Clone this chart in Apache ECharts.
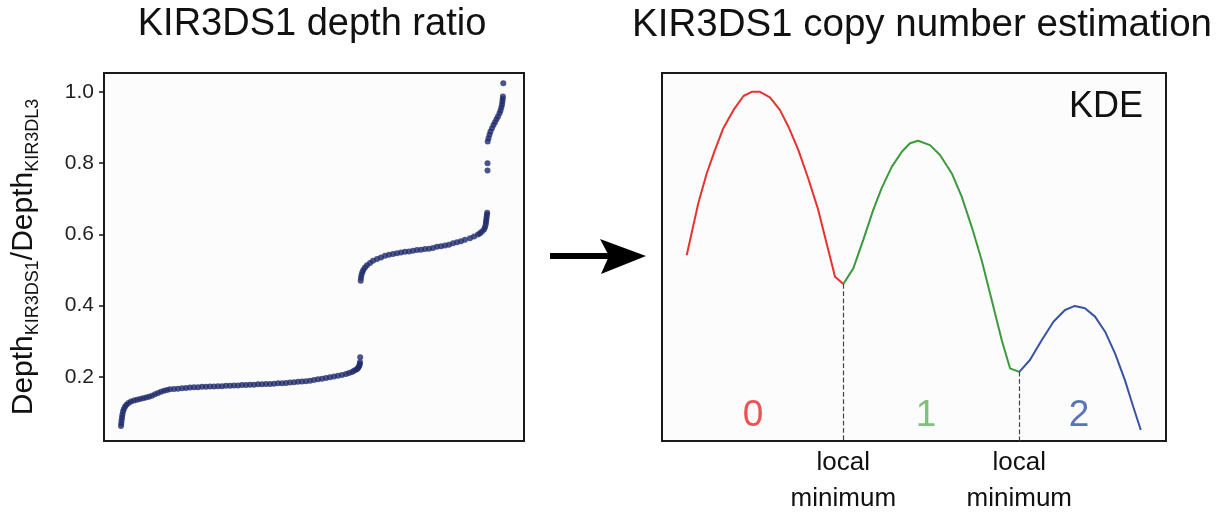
<!DOCTYPE html>
<html>
<head>
<meta charset="utf-8">
<script src="https://cdn.jsdelivr.net/npm/echarts@6/dist/echarts.min.js"></script>
<style>
  html, body { margin: 0; padding: 0; background: #fff; }
  #chart { width: 1221px; height: 512px; }
</style>
</head>
<body>
<div id="chart"></div>
<script>
// 左图：按排序位置的深度比值 [位置, 比值]
const lowerGroup = [
  [17.0, 0.062], [17.3, 0.070], [17.6, 0.078], [18.0, 0.086], [18.4, 0.094], [19.0, 0.102],
  [19.8, 0.109], [21.0, 0.116], [22.5, 0.122], [24.5, 0.127], [27, 0.131], [30, 0.134],
  [33, 0.136], [36, 0.138], [39, 0.140], [42, 0.142], [45, 0.144], [48, 0.147], [51, 0.151],
  [54, 0.155], [57, 0.158], [60, 0.161], [63, 0.163], [66, 0.165], [70, 0.166], [74, 0.167],
  [78, 0.168], [82, 0.169], [86, 0.170], [90, 0.171], [94, 0.171], [98, 0.172], [102, 0.172],
  [106, 0.173], [110, 0.173], [114, 0.174], [118, 0.174], [122, 0.175], [126, 0.175],
  [130, 0.176], [134, 0.176], [138, 0.177], [142, 0.177], [146, 0.178], [150, 0.178],
  [154, 0.179], [158, 0.179], [162, 0.180], [166, 0.180], [170, 0.181], [174, 0.182],
  [178, 0.182], [182, 0.183], [186, 0.184], [190, 0.185], [194, 0.186], [198, 0.187],
  [202, 0.188], [206, 0.189], [210, 0.191], [214, 0.193], [218, 0.195], [222, 0.197],
  [226, 0.199], [230, 0.201], [234, 0.203], [238, 0.205], [242, 0.208], [245, 0.211],
  [248, 0.214], [250, 0.217], [252, 0.220], [253.5, 0.223], [254.5, 0.227], [255.3, 0.231],
  [255.8, 0.236], [256.0, 0.241], [256.2, 0.255]
];
const middleGroup = [
  [256.7, 0.470], [257.0, 0.478], [257.5, 0.486], [258.3, 0.494], [259.3, 0.500], [261, 0.507],
  [263, 0.513], [266, 0.520], [269, 0.526], [273, 0.531], [277, 0.535], [281, 0.540],
  [285, 0.543], [289, 0.545], [293, 0.547], [297, 0.549], [301, 0.551], [305, 0.552],
  [309, 0.554], [313, 0.556], [317, 0.557], [321, 0.559], [325, 0.560], [329, 0.562],
  [333, 0.565], [337, 0.567], [341, 0.569], [345, 0.571], [349, 0.575], [353, 0.578],
  [357, 0.581], [361, 0.585], [366, 0.589], [370, 0.594], [374, 0.600], [376, 0.603],
  [378, 0.608], [380, 0.614], [381, 0.620], [381.7, 0.628], [382, 0.635], [382.3, 0.641],
  [382.6, 0.648], [382.9, 0.655], [383.2, 0.661]
];
const upperGroup = [
  [383.5, 0.779], [383.5, 0.800], [383.7, 0.861], [384.5, 0.870], [385.5, 0.880],
  [386.5, 0.889], [388, 0.898], [389.5, 0.907], [391, 0.915], [392.5, 0.923], [394, 0.931],
  [395.5, 0.940], [396.5, 0.948], [397.3, 0.956], [398, 0.964], [398.4, 0.972],
  [398.7, 0.980], [398.9, 0.987], [399.3, 1.024]
];
const ratioTicks = [0.2, 0.4, 0.6, 0.8, 1.0];

// 右图：KDE 曲线，按拷贝数分段 [比值, 密度]
const kdeCopy0 = [
  [0.0588, 0.505], [0.0864, 0.646], [0.1064, 0.727], [0.1262, 0.791], [0.146, 0.850],
  [0.170, 0.899], [0.194, 0.9375], [0.2136, 0.949], [0.2333, 0.949], [0.257, 0.934],
  [0.281, 0.899], [0.301, 0.854], [0.3245, 0.791], [0.348, 0.714], [0.372, 0.628],
  [0.392, 0.537], [0.412, 0.4465], [0.4317, 0.4266]
];
const kdeCopy1 = [
  [0.4317, 0.4266], [0.4555, 0.469], [0.479, 0.546], [0.503, 0.628], [0.523, 0.687],
  [0.547, 0.745], [0.571, 0.786], [0.5905, 0.809], [0.610, 0.816], [0.638, 0.804],
  [0.662, 0.777], [0.690, 0.727], [0.7136, 0.664], [0.7374, 0.582], [0.761, 0.492],
  [0.785, 0.383], [0.809, 0.274], [0.8286, 0.1975], [0.8507, 0.188]
];
const kdeCopy2 = [
  [0.8507, 0.188], [0.876, 0.220], [0.904, 0.274], [0.932, 0.324], [0.9595, 0.356],
  [0.983, 0.367], [1.007, 0.361], [1.031, 0.338], [1.055, 0.297], [1.0786, 0.238],
  [1.102, 0.166], [1.122, 0.093], [1.140, 0.030]
];
const localMinima = [[0.4317, 0.4266], [0.8507, 0.188]];
const copyLabels = [
  { name: '0', pos: [0.2167, 0.068], color: '#e8282a' },
  { name: '1', pos: [0.6286, 0.068], color: '#5db356' },
  { name: '2', pos: [0.993, 0.068], color: '#2f50a0' }
];

const FONT = '"Liberation Sans", Arial, Helvetica, sans-serif';
const chart = echarts.init(document.getElementById('chart'));

const option = {
  backgroundColor: '#ffffff',
  animation: false,
  textStyle: { fontFamily: FONT },
  grid: [
    { left: 104, right: 697, top: 73, bottom: 71, outerBoundsMode: 'none', show: true, backgroundColor: '#fcfcfc', borderColor: '#1a1a1a', borderWidth: 2 },
    { left: 662, right: 55, top: 73, bottom: 71, outerBoundsMode: 'none', show: true, backgroundColor: '#fcfcfc', borderColor: '#1a1a1a', borderWidth: 2 }
  ],
  xAxis: [
    { gridIndex: 0, type: 'value', min: 0, max: 420, show: false },
    {
      gridIndex: 1, type: 'value', min: 0, max: 1.2,
      axisLine: { show: false }, axisTick: { show: false }, splitLine: { show: false },
      axisLabel: {
        customValues: localMinima.map(p => p[0]),
        formatter: () => 'local\nminimum',
        fontSize: 26, lineHeight: 36, margin: 4, color: '#111', fontFamily: FONT
      }
    }
  ],
  yAxis: [
    {
      gridIndex: 0, type: 'value', min: 0.02, max: 1.053,
      axisLine: { show: false },
      splitLine: { show: false },
      axisTick: { show: true, length: 5, customValues: ratioTicks, lineStyle: { color: '#111', width: 1.5 } },
      axisLabel: {
        customValues: ratioTicks, formatter: v => v.toFixed(1),
        fontSize: 21, color: '#222', margin: 10, fontFamily: FONT
      },
      name: '{m|Depth}{s|KIR3DS1}{m|/Depth}{s|KIR3DL3}',
      nameLocation: 'middle', nameRotate: 90, nameGap: 62,
      nameTextStyle: {
        rich: {
          m: { fontSize: 30, lineHeight: 36, color: '#111', fontFamily: FONT },
          s: { fontSize: 18, lineHeight: 16, verticalAlign: 'bottom', color: '#111', fontFamily: FONT }
        }
      }
    },
    { gridIndex: 1, type: 'value', min: 0, max: 1, show: false }
  ],
  series: [
    {
      type: 'scatter', xAxisIndex: 0, yAxisIndex: 0,
      data: lowerGroup.concat(middleGroup, upperGroup),
      symbolSize: 6, itemStyle: { color: '#1f2b6c' }
    },
    {
      type: 'line', xAxisIndex: 1, yAxisIndex: 1, data: kdeCopy0,
      showSymbol: false, lineStyle: { color: '#e8322f', width: 2 }
    },
    {
      type: 'line', xAxisIndex: 1, yAxisIndex: 1, data: kdeCopy1,
      showSymbol: false, lineStyle: { color: '#3c9a3c', width: 2 },
      markLine: {
        silent: true, symbol: 'none',
        label: { show: false },
        lineStyle: { type: 'dashed', color: '#444', width: 1.2 },
        data: localMinima.map(p => [{ coord: p }, { coord: [p[0], 0] }])
      }
    },
    {
      type: 'line', xAxisIndex: 1, yAxisIndex: 1, data: kdeCopy2,
      showSymbol: false, lineStyle: { color: '#3953a4', width: 2 }
    },
    {
      type: 'scatter', xAxisIndex: 1, yAxisIndex: 1, symbolSize: 0, silent: true,
      data: copyLabels.map(c => ({
        name: c.name, value: c.pos,
        label: { show: true, position: 'inside', formatter: c.name, color: c.color, fontSize: 37, fontFamily: FONT }
      }))
    }
  ],
  graphic: [
    { type: 'text', x: 312, y: 25, style: { text: 'KIR3DS1 depth ratio', font: '38px ' + FONT, fill: '#111', align: 'center', verticalAlign: 'middle' } },
    { type: 'text', x: 922, y: 25, style: { text: 'KIR3DS1 copy number estimation', font: '38.5px ' + FONT, fill: '#111', align: 'center', verticalAlign: 'middle' } },
    { type: 'text', x: 1143, y: 107, style: { text: 'KDE', font: '36px ' + FONT, fill: '#111', align: 'right', verticalAlign: 'middle' } },
    // 箭头
    { type: 'rect', shape: { x: 550, y: 253, width: 60, height: 6 }, style: { fill: '#000' } },
    { type: 'polygon', shape: { points: [[600, 239], [646, 256], [601, 274], [609, 256]] }, style: { fill: '#000' } }
  ]
};

chart.setOption(option);
window.addEventListener('resize', () => chart.resize());
</script>
</body>
</html>
